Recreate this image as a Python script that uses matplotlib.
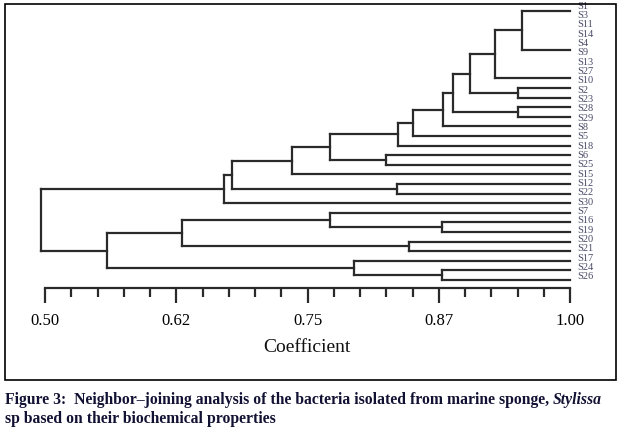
import matplotlib
matplotlib.use('Agg')
import matplotlib.pyplot as plt
from matplotlib.patches import Rectangle
from matplotlib.ticker import FixedLocator, MultipleLocator

# leaf order, top to bottom
leaves = ["S1", "S3", "S11", "S14", "S4", "S9", "S13", "S27", "S10", "S2",
          "S23", "S28", "S29", "S8", "S5", "S18", "S6", "S25", "S15", "S12",
          "S22", "S30", "S7", "S16", "S19", "S20", "S21", "S17", "S24", "S26"]

# internal nodes: name, children, coefficient where they join
node_names = ["n1", "n2", "n3", "n4", "n5", "n6", "n7", "n8", "n9", "n10",
              "n11", "n12", "n13", "n14", "n15", "n16", "n17", "n18", "n19",
              "n20", "n21", "n22", "n23", "n24", "root"]
node_children = [["S1", "S3", "S11"], ["S14", "S4", "S9", "S13", "S27"],
                 ["n1", "n2"], ["n3", "S10"], ["S2", "S23"], ["n4", "n5"],
                 ["S28", "S29"], ["n6", "n7"], ["n8", "S8"], ["n9", "S5"],
                 ["n10", "S18"], ["S6", "S25"], ["n11", "n12"], ["n13", "S15"],
                 ["S12", "S22"], ["n14", "n15"], ["n16", "S30"], ["S16", "S19"],
                 ["S7", "n18"], ["S20", "S21"], ["n19", "n20"], ["S24", "S26"],
                 ["S17", "n22"], ["n21", "n23"], ["n17", "n24"]]
node_coef = [1.00, 1.00, 0.954, 0.929, 0.950, 0.905, 0.950, 0.889, 0.879, 0.850,
             0.836, 0.825, 0.771, 0.735, 0.835, 0.678, 0.670, 0.878, 0.771,
             0.847, 0.630, 0.878, 0.794, 0.559, 0.496]

# scale
tick_values = [0.50, 0.625, 0.75, 0.875, 1.00]
tick_labels = ["0.50", "0.62", "0.75", "0.87", "1.00"]
axis_title = "Coefficient"
caption1 = "Figure 3:  Neighbor\u2013joining analysis of the bacteria isolated from marine sponge, "
caption1_it = "Stylissa"
caption2 = "sp based on their biochemical properties"

W, H = 618, 433
LINE = '#2a2a2a'
SERIF = 'Liberation Serif'

fig = plt.figure(figsize=(W / 100, H / 100), dpi=100)
fig.patch.set_facecolor('white')

# axes placed in pixel terms: x 45..570, first leaf at 1.5px, last at 280px
ax = fig.add_axes([45 / W, 1 - 280 / H, 525 / W, (280 - 1.5) / H])
ax.set_xlim(0.5, 1.0)
ax.set_ylim(len(leaves) - 1, 0)

# positions of leaves and nodes
ypos = {name: i for i, name in enumerate(leaves)}
xpos = {name: 1.0 for name in leaves}
for name, kids, c in zip(node_names, node_children, node_coef):
    ypos[name] = sum(ypos[k] for k in kids) / len(kids)
    xpos[name] = c

# draw the brackets
for name, kids, c in zip(node_names, node_children, node_coef):
    if c >= 1.0:
        continue
    ys = [ypos[k] for k in kids]
    ax.plot([c, c], [min(ys), max(ys)], color=LINE, lw=1.6,
            solid_capstyle='projecting', clip_on=False)
    for k in kids:
        ax.plot([c, xpos[k]], [ypos[k], ypos[k]], color=LINE, lw=1.6,
                solid_capstyle='projecting', clip_on=False)

# leaf labels (the printed column runs slightly tighter than the branches)
for i, name in enumerate(leaves):
    ax.annotate(name, (1.0, 0.47 + i * 0.972), xytext=(5, 0),
                textcoords='offset points', va='center', ha='left',
                fontsize=7.5, family=SERIF, color='#4a4a68', annotation_clip=False)

# scale bar
for s in ['top', 'right', 'left']:
    ax.spines[s].set_visible(False)
ax.spines['bottom'].set_position(('outward', 6))
ax.spines['bottom'].set_linewidth(1.6)
ax.spines['bottom'].set_color(LINE)
ax.set_facecolor('none')
ax.xaxis.set_major_locator(FixedLocator(tick_values))
ax.xaxis.set_minor_locator(MultipleLocator(0.025))
ax.set_xticklabels(tick_labels, family=SERIF, fontsize=12)
ax.tick_params(axis='x', which='major', direction='out', length=11, width=1.6,
               color=LINE, pad=7)
ax.tick_params(axis='x', which='minor', direction='out', length=6.5, width=1.6,
               color=LINE)
ax.set_yticks([])

fig.text(307 / W, 1 - 352 / H, axis_title, ha='center', va='baseline',
         fontsize=14, family=SERIF, color='#111111')

# frame round the chart
fig.add_artist(Rectangle((4.5 / W, 1 - 379.5 / H), 611.5 / W, 375.5 / H,
                         transform=fig.transFigure, fill=False,
                         edgecolor='black', lw=1.2))

# caption
cap_col = '#111133'
t1 = fig.text(5 / W, 1 - 404 / H, caption1, ha='left', va='baseline',
              fontsize=11.3, family=SERIF, weight='bold', color=cap_col)
fig.canvas.draw()
bb = t1.get_window_extent()
fig.text(bb.x1 / W, 1 - 404 / H, caption1_it, ha='left', va='baseline',
         fontsize=11.3, family=SERIF, weight='bold', style='italic', color=cap_col)
fig.text(5 / W, 1 - 423 / H, caption2, ha='left', va='baseline',
         fontsize=11.3, family=SERIF, weight='bold', color=cap_col)

fig.savefig('out.png', dpi=100)
